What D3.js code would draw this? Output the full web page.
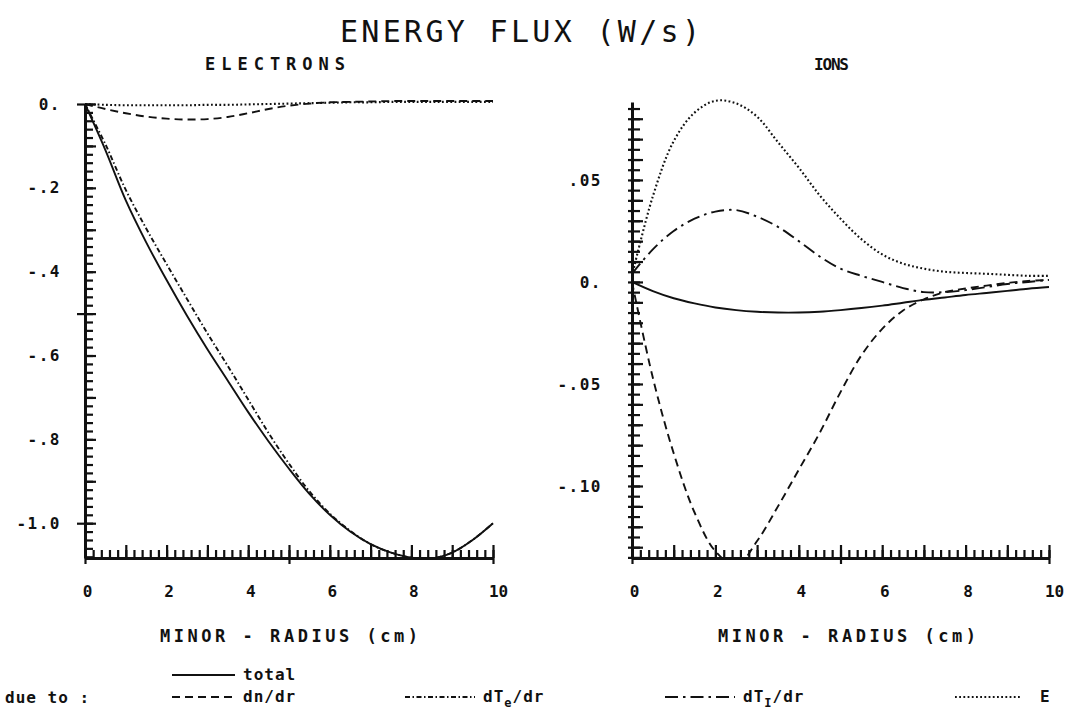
<!DOCTYPE html>
<html>
<head>
<meta charset="utf-8">
<script src="https://cdn.jsdelivr.net/npm/d3@7"></script>
<style>
  body { margin: 0; background: #fff; }
  svg text { font-family: "DejaVu Sans Mono", monospace; fill: #111; }
</style>
</head>
<body>
<div id="chart"></div>
<script>
// radius grid (cm)
const radius = [0, 0.5, 1, 1.5, 2, 2.5, 3, 3.5, 4, 4.5, 5, 5.5, 6, 6.5, 7, 7.5, 8, 8.5, 9, 9.5, 10];

// electrons panel
const eTotal = [0, -0.11, -0.23, -0.33, -0.42, -0.505, -0.585, -0.66, -0.735, -0.805, -0.87, -0.93, -0.98, -1.02, -1.05, -1.07, -1.082, -1.084, -1.07, -1.04, -1.0];
const eDn    = [0, -0.012, -0.022, -0.030, -0.035, -0.037, -0.036, -0.031, -0.022, -0.012, -0.004, 0.001, 0.004, 0.005, 0.006, 0.007, 0.007, 0.007, 0.007, 0.007, 0.007];
const eDTe   = [0, -0.096, -0.205, -0.297, -0.382, -0.465, -0.547, -0.625, -0.705, -0.785, -0.858, -0.924, -0.977, -1.018, -1.05, -1.07, -1.082, -1.084, -1.07, -1.04, -1.0];
const eE     = [0, -0.002, -0.003, -0.003, -0.003, -0.003, -0.002, -0.002, -0.001, 0, 0.001, 0.002, 0.003, 0.004, 0.004, 0.005, 0.005, 0.005, 0.005, 0.005, 0.005];

// ions panel
const iTotal = [0, -0.0045, -0.008, -0.0105, -0.0125, -0.0138, -0.0146, -0.015, -0.015, -0.0146, -0.0138, -0.0128, -0.0116, -0.0102, -0.0088, -0.0076, -0.0064, -0.0054, -0.0044, -0.0033, -0.0025];
const iDn    = [0, -0.047, -0.084, -0.113, -0.132, -0.139, -0.127, -0.110, -0.092, -0.074, -0.054, -0.036, -0.023, -0.014, -0.0085, -0.005, -0.0032, -0.0018, -0.0005, 0.0005, 0.001];
const iDTi   = [0.004, 0.016, 0.025, 0.031, 0.0345, 0.0352, 0.032, 0.027, 0.020, 0.0125, 0.0065, 0.003, 0.0, -0.003, -0.005, -0.005, -0.004, -0.0025, -0.001, 0.0, 0.001];
const iE     = [0.003, 0.042, 0.069, 0.083, 0.0888, 0.0875, 0.081, 0.0685, 0.056, 0.0425, 0.031, 0.021, 0.0135, 0.009, 0.0065, 0.005, 0.0044, 0.004, 0.0035, 0.003, 0.003];

// tick labels
const xTicks = [0, 2, 4, 6, 8, 10];
const eYTicks = [0, -0.2, -0.4, -0.6, -0.8, -1.0];
const eYTickText = ["0.", "-.2", "-.4", "-.6", "-.8", "-1.0"];
const iYTicks = [0.05, 0, -0.05, -0.10];
const iYTickText = [".05", "0.", "-.05", "-.10"];

const dashes = { total: null, dn: "8,5", dTe: "5,2.5,1.5,2.5", dTi: "13,5,2.5,5", E: "1.8,2.4" };

const W = 1070, H = 712, base = 558;
const svg = d3.select("#chart").append("svg").attr("width", W).attr("height", H);

function clean(g) {
  g.attr("font-family", null).attr("font-size", null);
  g.selectAll("line").attr("stroke", "#111").attr("stroke-width", 2.2);
  g.selectAll("path").attr("stroke", "#111").attr("stroke-width", 3);
  return g;
}

function drawPanel(p) {
  const x = d3.scaleLinear().domain([0, 10]).range(p.xr);
  const y = d3.scaleLinear().domain(p.yd).range([base, p.yTop]);
  const g = svg.append("g");

  // clip for curves
  g.append("clipPath").attr("id", p.id + "-clip")
    .append("rect").attr("x", p.xr[0]).attr("y", 80).attr("width", p.xr[1] - p.xr[0] + 2).attr("height", base - 80);

  // x axis: minor 0.2, medium 1, crossing at 0/5/10
  const xa = g.append("g").attr("transform", `translate(0,${base})`);
  xa.append("g").call(d3.axisTop(x).tickValues(d3.range(0, 51).map(i => i / 5)).tickSize(8).tickSizeOuter(0).tickFormat("")).call(clean);
  xa.append("g").call(d3.axisTop(x).tickValues(d3.range(0, 11)).tickSize(13).tickSizeOuter(0).tickFormat("")).call(clean).select(".domain").remove();
  xa.append("g").call(d3.axisBottom(x).tickValues([0, 5, 10]).tickSize(6).tickSizeOuter(0).tickFormat("")).call(clean).select(".domain").remove();
  const xl = xa.append("g").call(d3.axisBottom(x).tickValues(xTicks).tickSize(0).tickPadding(28));
  xl.select(".domain").remove();
  xl.attr("font-family", null).attr("font-size", null);
  xl.selectAll("text").attr("font-size", 16).attr("font-weight", "bold").attr("dx", d => d === 10 ? 5 : 2);

  // y axis
  const ya = g.append("g").attr("transform", `translate(${p.xr[0]},0)`);
  ya.append("g").call(d3.axisRight(y).tickValues(p.yMinor).tickSize(8).tickSizeOuter(0).tickFormat("")).call(clean);
  ya.append("g").call(d3.axisRight(y).tickValues(p.yMid).tickSize(11).tickSizeOuter(0).tickFormat("")).call(clean).select(".domain").remove();
  ya.append("g").call(d3.axisLeft(y).tickValues(p.yCross).tickSize(p.crossLen).tickSizeOuter(0).tickFormat("")).call(clean).select(".domain").remove();
  const yl = ya.append("g").call(d3.axisLeft(y).tickValues(p.yTicks).tickFormat((d, i) => p.yText[i]).tickSize(0).tickPadding(p.pad));
  yl.select(".domain").remove();
  yl.attr("font-family", null).attr("font-size", null);
  yl.selectAll("text").attr("font-size", 16).attr("font-weight", "bold").attr("letter-spacing", 1.5);

  // curves
  const line = d3.line().x((d, i) => x(radius[i])).y(d => y(d)).curve(d3.curveCatmullRom.alpha(0.5));
  const cg = g.append("g").attr("clip-path", `url(#${p.id}-clip)`);
  p.series.forEach(s => {
    cg.append("path").datum(s.values)
      .attr("d", line)
      .attr("fill", "none")
      .attr("stroke", "#111")
      .attr("stroke-width", s.key === "E" ? 2.1 : 1.9)
      .attr("stroke-dasharray", dashes[s.key]);
  });

  // axis x title
  g.append("text").attr("x", p.titleX).attr("y", 642)
    .attr("font-size", 17).attr("font-weight", "bold")
    .attr("textLength", 258).attr("lengthAdjust", "spacing")
    .text("MINOR - RADIUS  (cm)");
}

drawPanel({
  id: "el", xr: [85, 493], yd: [-1.083, 0], yTop: 104,
  yMinor: d3.range(0, 55).map(i => -i * 0.02),
  yMid: d3.range(0, 11).map(i => -i * 0.1),
  yCross: [0, -0.5, -1.0], crossLen: 8,
  yTicks: eYTicks, yText: eYTickText, pad: 24,
  titleX: 160,
  series: [
    { key: "total", values: eTotal },
    { key: "dn", values: eDn },
    { key: "dTe", values: eDTe },
    { key: "E", values: eE }
  ]
});

drawPanel({
  id: "io", xr: [632, 1049], yd: [-0.1353, 0.0882], yTop: 102,
  yMinor: d3.range(-27, 18).map(i => i * 0.005),
  yMid: d3.range(-13, 9).map(i => i * 0.01),
  yCross: d3.range(-27, 18).map(i => i * 0.005), crossLen: 4,
  yTicks: iYTicks, yText: iYTickText, pad: 30,
  titleX: 718,
  series: [
    { key: "total", values: iTotal },
    { key: "dn", values: iDn },
    { key: "dTi", values: iDTi },
    { key: "E", values: iE }
  ]
});

// titles
svg.append("text").attr("x", 340).attr("y", 42).attr("font-size", 30)
  .attr("textLength", 360).attr("lengthAdjust", "spacing").text("ENERGY FLUX (W/s)");
svg.append("text").attr("x", 205).attr("y", 70).attr("font-size", 17).attr("font-weight", "bold")
  .attr("textLength", 140).attr("lengthAdjust", "spacing").text("ELECTRONS");
svg.append("text").attr("x", 814).attr("y", 70).attr("font-size", 16).attr("font-weight", "bold")
  .attr("textLength", 35).attr("lengthAdjust", "spacing").text("IONS");

// legend
const leg = svg.append("g");
const legItems = [
  { key: "total", x0: 172, x1: 235, y: 675, label: ["total"] },
  { key: "dn", x0: 172, x1: 235, y: 697, label: ["dn/dr"] },
  { key: "dTe", x0: 405, x1: 475, y: 697, label: ["dT", "e", "/dr"] },
  { key: "dTi", x0: 665, x1: 735, y: 697, label: ["dT", "I", "/dr"] },
  { key: "E", x0: 955, x1: 1022, y: 697, label: ["E"] }
];
legItems.forEach(it => {
  leg.append("line").attr("x1", it.x0).attr("x2", it.x1).attr("y1", it.y).attr("y2", it.y)
    .attr("stroke", "#111").attr("stroke-width", 2).attr("stroke-dasharray", dashes[it.key]);
  const t = leg.append("text").attr("x", it.key === "E" ? 1040 : it.x1 + 8).attr("y", it.y + 5)
    .attr("font-size", 16).attr("font-weight", "bold").attr("letter-spacing", 1);
  t.append("tspan").text(it.label[0]);
  if (it.label.length > 1) {
    t.append("tspan").attr("font-size", 12).attr("dy", 5).text(it.label[1]);
    t.append("tspan").attr("dy", -5).text(it.label[2]);
  }
});
leg.append("text").attr("x", 5).attr("y", 703).attr("font-size", 16).attr("font-weight", "bold")
  .attr("letter-spacing", 1).text("due to :");
</script>
</body>
</html>
